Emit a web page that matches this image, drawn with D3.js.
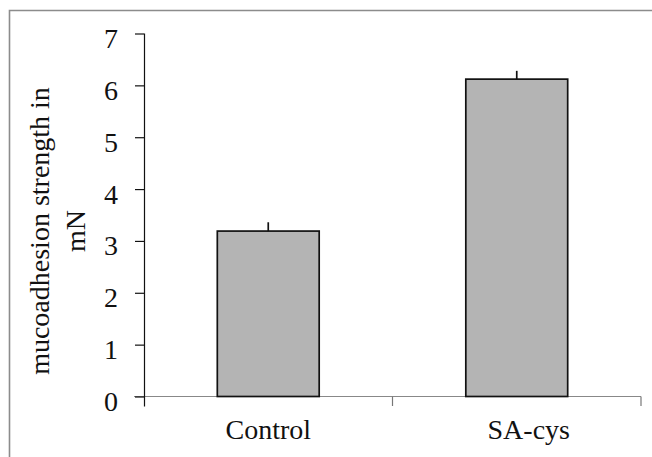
<!DOCTYPE html>
<html lang="en">
<head>
  <meta charset="UTF-8">
  <title>Mucoadhesion strength</title>
  <style>
    body {
      margin: 0;
      padding: 0;
      background-color: #ffffff;
    }
    svg text {
      font-family: "Liberation Serif", "Times New Roman", serif;
      fill: #111;
    }
  </style>
  <script src="https://d3js.org/d3.v7.min.js"></script>
</head>
<body>
  <div id="chart"></div>
  <script>
    const categories = ["Control", "SA-cys"];
    const values = [3.19, 6.12];
    const errors = [0.17, 0.16];
    const yTicks = [0, 1, 2, 3, 4, 5, 6, 7];
    const yLabelLines = ["mucoadhesion strength in", "mN"];

    const width = 652;
    const height = 457;
    const margin = { top: 33.5, right: 11, bottom: 60.5, left: 144 };

    const svg = d3.select("#chart")
      .append("svg")
      .attr("width", width)
      .attr("height", height);

    // outer frame, only top and left edges are visible in the picture
    svg.append("path")
      .attr("d", `M9.5,${height}V10.5H${width}`)
      .attr("fill", "none")
      .attr("stroke", "#8c8c8c")
      .attr("stroke-width", 1.6);

    const x = d3.scaleBand()
      .domain(categories)
      .range([margin.left, width - margin.right])
      .padding(0);

    const y = d3.scaleLinear()
      .domain([0, 7])
      .range([height - margin.bottom, margin.top]);

    const barW = x.bandwidth() * 0.41;

    // x axis (gray), ticks between categories
    svg.append("line")
      .attr("x1", margin.left - 10).attr("x2", width - margin.right)
      .attr("y1", y(0)).attr("y2", y(0))
      .attr("stroke", "#888").attr("stroke-width", 1.2);

    svg.selectAll(".xtick")
      .data(categories)
      .enter()
      .append("line")
      .attr("class", "xtick")
      .attr("x1", d => x(d) + x.step()).attr("x2", d => x(d) + x.step())
      .attr("y1", y(0)).attr("y2", y(0) + 9.5)
      .attr("stroke", "#777").attr("stroke-width", 1.2);

    const xAxis = svg.append("g")
      .attr("transform", `translate(0,${y(0)})`)
      .call(d3.axisBottom(x).tickSize(0).tickPadding(0));
    xAxis.select(".domain").remove();
    xAxis.selectAll("text")
      .attr("font-size", 28)
      .attr("y", 0)
      .attr("dy", 42.5)
      .attr("dx", d => d === "SA-cys" ? 12 : 0);

    // bars
    svg.selectAll(".bar")
      .data(values)
      .enter()
      .append("rect")
      .attr("class", "bar")
      .attr("x", (d, i) => x(categories[i]) + (x.bandwidth() - barW) / 2)
      .attr("y", d => y(d))
      .attr("width", barW)
      .attr("height", d => y(0) - y(d))
      .attr("fill", "#b4b4b4")
      .attr("stroke", "#111")
      .attr("stroke-width", 1.7);

    // upper error bars, no caps
    svg.selectAll(".err")
      .data(values)
      .enter()
      .append("line")
      .attr("class", "err")
      .attr("x1", (d, i) => x(categories[i]) + x.bandwidth() / 2)
      .attr("x2", (d, i) => x(categories[i]) + x.bandwidth() / 2)
      .attr("y1", d => y(d))
      .attr("y2", (d, i) => y(d + errors[i]))
      .attr("stroke", "#111")
      .attr("stroke-width", 1.7);

    // y axis
    const yAxis = svg.append("g")
      .attr("transform", `translate(${margin.left},0)`)
      .call(d3.axisLeft(y).tickValues(yTicks).tickFormat(d3.format("d"))
        .tickSize(9).tickPadding(17).tickSizeOuter(0));
    yAxis.select(".domain")
      .attr("d", `M0.5,${y(7)}V${y(0) + 10}`)
      .attr("stroke", "#111").attr("stroke-width", 1.2);
    yAxis.selectAll(".tick line").attr("stroke", "#111").attr("stroke-width", 1.2);
    yAxis.selectAll(".tick text")
      .attr("font-size", 28)
      .attr("dy", "0.5em");

    // y label, two lines
    const cy = 231;
    svg.selectAll(".ylabel")
      .data(yLabelLines)
      .enter()
      .append("text")
      .attr("class", "ylabel")
      .attr("transform", (d, i) => `translate(${49 + i * 36},${cy}) rotate(-90)`)
      .attr("text-anchor", "middle")
      .attr("font-size", 28)
      .text(d => d);
  </script>
</body>
</html>
